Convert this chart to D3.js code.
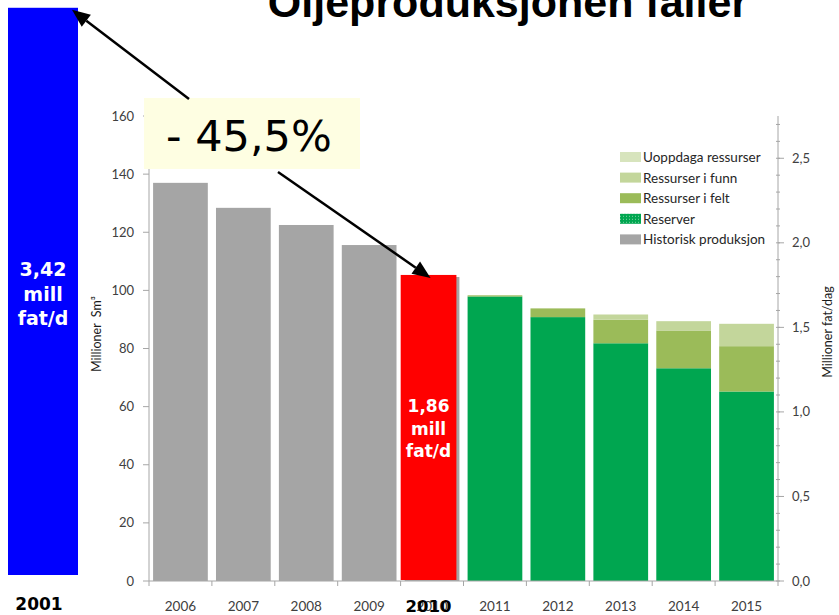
<!DOCTYPE html>
<html lang="no">
<head>
<meta charset="UTF-8">
<title>Oljeproduksjonen faller</title>
<script src="https://d3js.org/d3.v7.min.js"></script>
<style>
    body { margin: 0; padding: 0; background: #fff; }
    svg { display: block; }
    .tick-label { font-family: Lato, "Open Sans", sans-serif; font-size: 13px; fill: #404040; }
    .legend text { font-family: Lato, "Open Sans", sans-serif; font-size: 13.5px; fill: #262626; }
    .axis-title { font-family: Lato, "Open Sans", sans-serif; font-size: 12.5px; fill: #1a1a1a; }
    .big { font-family: "DejaVu Sans", Verdana, sans-serif; font-weight: bold; }
</style>
</head>
<body>
<div id="chart"></div>
<script>
// data (million Sm3 per year)
const years = ["2006", "2007", "2008", "2009", "2010", "2011", "2012", "2013", "2014", "2015"];
const historisk = [137.0, 128.4, 122.5, 115.6, 104.6, 0, 0, 0, 0, 0];
const reserver  = [0, 0, 0, 0, 0, 97.9, 90.8, 81.8, 73.2, 65.2];
const felt      = [0, 0, 0, 0, 0, 0.4, 3.0, 8.1, 13.0, 15.6];
const funn      = [0, 0, 0, 0, 0, 0, 0, 1.8, 3.2, 7.7];
const uoppdaga  = [0, 0, 0, 0, 0, 0, 0, 0, 0, 0];

const leftTicks = [0, 20, 40, 60, 80, 100, 120, 140, 160];
const rightTicks = [0, 0.5, 1.0, 1.5, 2.0, 2.5];

// annotation bars (million barrels per day)
const annoYears = ["2001", "2010"];
const annoValues = [3.39, 1.81];
const annoLabels = [["3,42", "mill", "fat/d"], ["1,86", "mill", "fat/d"]];
const changeLabel = "- 45,5%";

const series = [
    { key: "historisk", name: "Historisk produksjon", color: "#a5a5a5", values: historisk },
    { key: "reserver", name: "Reserver", color: "#00a650", values: reserver },
    { key: "felt", name: "Ressurser i felt", color: "#9bbb59", values: felt },
    { key: "funn", name: "Ressurser i funn", color: "#c3d69b", values: funn },
    { key: "uoppdaga", name: "Uoppdaga ressurser", color: "#d7e4bd", values: uoppdaga }
];

const width = 839, height = 615;
const plot = { left: 149, right: 778, top: 116, bottom: 581 };

const svg = d3.select("#chart").append("svg")
    .attr("width", width)
    .attr("height", height);

const defs = svg.append("defs");
const pat = defs.append("pattern")
    .attr("id", "reservePattern")
    .attr("width", 3).attr("height", 3)
    .attr("patternUnits", "userSpaceOnUse");
pat.append("rect").attr("width", 3).attr("height", 3).attr("fill", "#00a650");
pat.append("rect").attr("width", 1).attr("height", 1).attr("fill", "#7fd3a5");

const x = d3.scaleBand()
    .domain(years)
    .range([plot.left, plot.right])
    .paddingInner(0.13)
    .paddingOuter(0.065);

const y = d3.scaleLinear().domain([0, 160]).range([plot.bottom, plot.top]);
const yR = d3.scaleLinear().domain([0, 2.75]).range([plot.bottom, plot.top]);

// stacked bars
const table = years.map((yr, i) => {
    const row = { year: yr };
    series.forEach(s => row[s.key] = s.values[i]);
    return row;
});
const stack = d3.stack().keys(series.map(s => s.key));
const layers = stack(table);

svg.append("g").selectAll("g")
    .data(layers)
    .join("g")
    .attr("fill", (d, i) => series[i].color)
    .selectAll("rect")
    .data(d => d)
    .join("rect")
    .attr("x", d => x(d.data.year))
    .attr("y", d => y(d[1]))
    .attr("width", x.bandwidth())
    .attr("height", d => Math.max(0, y(d[0]) - y(d[1])));

// left axis
const gl = svg.append("g");
gl.append("line")
    .attr("x1", plot.left).attr("x2", plot.left)
    .attr("y1", plot.top).attr("y2", plot.bottom)
    .attr("stroke", "#a6a6a6");
gl.selectAll(".t").data(leftTicks).join("line")
    .attr("x1", plot.left - 6).attr("x2", plot.left)
    .attr("y1", d => y(d)).attr("y2", d => y(d))
    .attr("stroke", "#a6a6a6");
gl.selectAll("text").data(leftTicks).join("text")
    .attr("class", "tick-label")
    .attr("x", plot.left - 15)
    .attr("y", d => y(d) + 4.5)
    .attr("text-anchor", "end")
    .text(d => d);

// right axis
const gr = svg.append("g");
gr.append("line")
    .attr("x1", plot.right).attr("x2", plot.right)
    .attr("y1", plot.top).attr("y2", plot.bottom)
    .attr("stroke", "#a6a6a6");
gr.selectAll(".m").data(d3.range(0, 28)).join("line")
    .attr("x1", plot.right - 2).attr("x2", plot.right + 2)
    .attr("y1", d => yR(d / 10)).attr("y2", d => yR(d / 10))
    .attr("stroke", "#a6a6a6");
gr.selectAll(".t").data(rightTicks).join("line")
    .attr("x1", plot.right).attr("x2", plot.right + 6)
    .attr("y1", d => yR(d)).attr("y2", d => yR(d))
    .attr("stroke", "#a6a6a6");
gr.selectAll("text").data(rightTicks).join("text")
    .attr("class", "tick-label")
    .attr("x", plot.right + 14)
    .attr("y", d => yR(d) + 4.5)
    .text(d => d.toFixed(1).replace(".", ","));

// x axis
const gx = svg.append("g");
gx.append("line")
    .attr("x1", plot.left).attr("x2", plot.right)
    .attr("y1", plot.bottom).attr("y2", plot.bottom)
    .attr("stroke", "#a6a6a6");
gx.selectAll("line.t").data(years.concat(["end"])).join("line")
    .attr("class", "t")
    .attr("x1", (d, i) => plot.left + i * x.step())
    .attr("x2", (d, i) => plot.left + i * x.step())
    .attr("y1", plot.bottom).attr("y2", plot.bottom + 5)
    .attr("stroke", "#a6a6a6");
gx.selectAll("text").data(years).join("text")
    .attr("class", "tick-label")
    .style("font-size", "13.5px")
    .attr("x", d => x(d) + x.bandwidth() / 2)
    .attr("y", 611)
    .attr("text-anchor", "middle")
    .text(d => d);

// axis titles
svg.append("text")
    .attr("class", "axis-title")
    .attr("transform", `translate(101,334) rotate(-90)`)
    .attr("text-anchor", "middle")
    .html("Millioner&#160;&#160;Sm³");
svg.append("text")
    .attr("class", "axis-title")
    .attr("transform", `translate(832,332) rotate(-90)`)
    .attr("text-anchor", "middle")
    .text("Millioner fat/dag");

// legend
const legendItems = series.slice().reverse();
const lg = svg.append("g").attr("class", "legend").attr("transform", "translate(620,157)");
const li = lg.selectAll("g").data(legendItems).join("g")
    .attr("transform", (d, i) => `translate(0,${i * 20.6})`);
li.append("rect")
    .attr("x", 0).attr("y", -5)
    .attr("width", 21).attr("height", 10)
    .attr("fill", d => d.key === "reserver" ? "url(#reservePattern)" : d.color);
li.append("text")
    .attr("x", 23).attr("y", 5)
    .text(d => d.name);

// annotation: red 2010 bar and blue 2001 bar
const xAnno = d3.scaleBand().domain(["2001"]).range([8, 78]);
const redX = x("2010") - 4;
const redW = x.bandwidth() + 1;
svg.append("rect")
    .attr("x", redX).attr("y", yR(annoValues[1]))
    .attr("width", redW)
    .attr("height", yR(0) - 1 - yR(annoValues[1]))
    .attr("fill", "#ff0000");
svg.append("rect")
    .attr("x", xAnno("2001")).attr("y", yR(annoValues[0]))
    .attr("width", xAnno.bandwidth())
    .attr("height", yR(0) - 6 - yR(annoValues[0]))
    .attr("fill", "#0000ff");

svg.append("g").selectAll("text").data(annoLabels[0]).join("text")
    .attr("class", "big")
    .attr("x", xAnno("2001") + xAnno.bandwidth() / 2)
    .attr("y", (d, i) => 276 + i * 24.5)
    .attr("text-anchor", "middle")
    .attr("fill", "#fff")
    .style("font-size", "19px")
    .text(d => d);
svg.append("g").selectAll("text").data(annoLabels[1]).join("text")
    .attr("class", "big")
    .attr("x", redX + redW / 2)
    .attr("y", (d, i) => 412 + i * 22.5)
    .attr("text-anchor", "middle")
    .attr("fill", "#fff")
    .style("font-size", "17px")
    .text(d => d);

// bold year labels
svg.append("text")
    .attr("class", "big")
    .attr("x", xAnno("2001") + xAnno.bandwidth() / 2 - 4)
    .attr("y", 610)
    .attr("text-anchor", "middle")
    .style("font-size", "17px")
    .attr("fill", "#000")
    .text(annoYears[0]);
svg.append("text")
    .attr("class", "big")
    .attr("x", redX + redW / 2)
    .attr("y", 612)
    .attr("text-anchor", "middle")
    .style("font-size", "16.5px")
    .attr("fill", "#000")
    .text(annoYears[1]);

// change box
svg.append("rect")
    .attr("x", 144).attr("y", 98)
    .attr("width", 216).attr("height", 71)
    .attr("fill", "#fefee2");
svg.append("text")
    .attr("x", 166).attr("y", 151)
    .style("font-family", "'DejaVu Sans', Verdana, sans-serif")
    .style("font-size", "43px")
    .attr("fill", "#000")
    .text(changeLabel);

// arrows
function arrow(x1, y1, x2, y2) {
    const a = Math.atan2(y2 - y1, x2 - x1);
    const len = 18, hw = 7.5;
    const bx = x2 - len * Math.cos(a), by = y2 - len * Math.sin(a);
    svg.append("line")
        .attr("x1", x1).attr("y1", y1).attr("x2", bx).attr("y2", by)
        .attr("stroke", "#000").attr("stroke-width", 2.5);
    svg.append("path")
        .attr("d", `M${x2},${y2}L${bx + hw * Math.sin(a)},${by - hw * Math.cos(a)}L${bx - hw * Math.sin(a)},${by + hw * Math.cos(a)}Z`)
        .attr("fill", "#000");
}
arrow(189, 99, xAnno("2001") + xAnno.bandwidth() - 6, yR(annoValues[0]) + 2);
arrow(278, 172, redX + redW / 2 + 2, yR(annoValues[1]) + 3);

// title, cut off at the top edge
svg.append("text")
    .attr("x", 508).attr("y", 17)
    .attr("text-anchor", "middle")
    .style("font-family", "'Liberation Sans', Arial, sans-serif")
    .style("font-weight", "bold")
    .style("font-size", "43px")
    .attr("fill", "#000")
    .text("Oljeproduksjonen faller");
</script>
</body>
</html>
